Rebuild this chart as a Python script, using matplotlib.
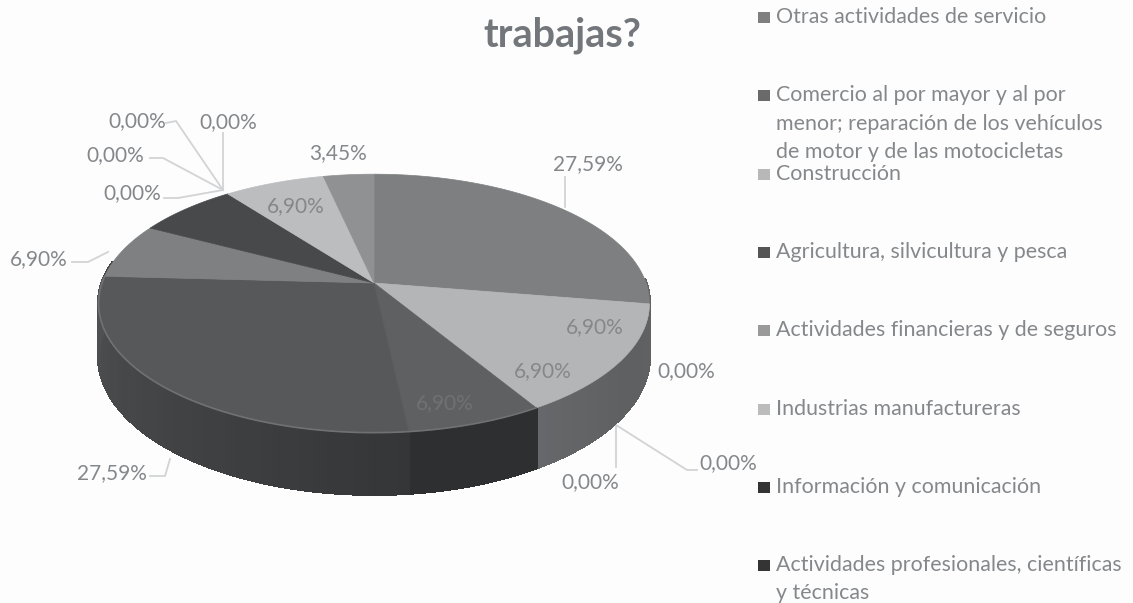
import numpy as np
import matplotlib
matplotlib.use("Agg")
import matplotlib.pyplot as plt
from matplotlib.colors import to_rgb
from matplotlib.patches import Polygon, Rectangle

# ---- data ----
slice_values = [27.59, 6.90, 0.0, 0.0, 0.0, 6.90, 6.90, 27.59, 6.90, 6.90, 0.0, 0.0, 0.0, 0.0, 6.90, 3.45]
slice_labels = ["27,59%", "6,90%", "0,00%", "0,00%", "0,00%", "6,90%", "6,90%", "27,59%",
                "6,90%", "", "0,00%", "0,00%", "0,00%", "0,00%", "6,90%", "3,45%"]
legend_lines = [
    ["Otras actividades de servicio"],
    ["Comercio al por mayor y al por", "menor; reparación de los vehículos", "de motor y de las motocicletas"],
    ["Construcción"],
    ["Agricultura, silvicultura y pesca"],
    ["Actividades financieras y de seguros"],
    ["Industrias manufactureras"],
    ["Información y comunicación"],
    ["Actividades profesionales, científicas", "y técnicas"],
]
title_last_line = "trabajas?"

# ---- styles / layout ----
top_colors = ["#7d7f80", "#b4b5b6", "#888888", "#888888", "#888888", "#b4b5b6", "#5f6061", "#56585a",
              "#7f8081", "#47494a", "#888888", "#888888", "#888888", "#888888", "#bcbdbe", "#909192"]
side_start = ["#666768", "#606162", "#555555", "#555555", "#555555", "#5f6061", "#2e2f30", "#353638",
              "#444444", "#333333", "#444444", "#444444", "#444444", "#444444", "#555555", "#555555"]
side_end = ["#606162", "#5f6061", "#555555", "#555555", "#555555", "#66676a", "#2e2f30", "#505153",
            "#444444", "#333333", "#444444", "#444444", "#444444", "#444444", "#555555", "#555555"]
legend_swatches = ["#7f7f7f", "#6a6a6a", "#b8b8b8", "#555555", "#9a9a9a", "#bcbcbc", "#333333", "#343434"]
legend_y = [[17], [95, 124, 152], [174], [252], [330], [409], [487], [565, 593]]
label_xy = [(588, 164), (595, 327), (686, 371), (590, 482), (728, 463), (543, 371), (445, 403), (112, 473),
            (39, 259), None, (137, 121), (228, 122), (115, 155), (132, 193), (296, 206), (338, 153)]
leaders = [
    [(565, 177), (565, 207)],
    [(616, 425), (616, 467)],
    [(616, 425), (687, 470), (697, 470)],
    [(150, 476), (165, 476), (170, 459)],
    [(72, 262), (88, 262), (108, 252)],
    [(166, 123), (176, 121), (223, 190)],
    [(223, 133), (223, 190)],
    [(150, 158), (163, 158), (223, 190)],
    [(164, 198), (178, 198), (223, 190)],
]
CX, CY, RX, RY, PERSP, DEPTH = 374.0, 283.0, 272.0, 126.0, 0.158, 52.0
TEXT = "#85888b"
FONT = "Lato"


def project(theta_deg):
    """Perspective projection of the rim of a tilted disc; returns x, y, scale."""
    t = np.radians(theta_deg)
    X, Y = np.sin(t), np.cos(t)
    s = 1.0 / (1.0 + PERSP * Y)
    return CX + RX * X * s, CY - RY * Y * s, s


fig = plt.figure(figsize=(11.33, 6.03), dpi=100, facecolor="#fdfdfd")
ax = fig.add_axes([0, 0, 1, 1])
ax.set_xlim(0, 1133)
ax.set_ylim(603, 0)
ax.axis("off")

vals = np.asarray(slice_values, dtype=float)
edges = np.concatenate([[0.0], np.cumsum(vals)]) / vals.sum() * 360.0

# side wall, shaded along the rim
for i in range(len(vals)):
    a, b = max(edges[i], 88.0), min(edges[i + 1], 280.0)
    if vals[i] == 0 or b <= a:
        continue
    steps = np.linspace(a, b, 41)
    c0, c1 = np.array(to_rgb(side_start[i])), np.array(to_rgb(side_end[i]))
    for j in range(40):
        th = np.linspace(steps[j], steps[j + 1], 4)
        x, y, s = project(th)
        pts = np.r_[np.c_[x, y], np.c_[x, y + DEPTH * s][::-1]]
        col = c0 + (c1 - c0) * j / 39
        ax.add_patch(Polygon(pts, closed=True, fc=col, ec=col, lw=1.5, antialiased=False, zorder=2))

# top surface
for i in range(len(vals)):
    if vals[i] == 0:
        continue
    th = np.linspace(edges[i], edges[i + 1], 120)
    x, y, _ = project(th)
    pts = np.r_[[[CX, CY]], np.c_[x, y]]
    ax.add_patch(Polygon(pts, closed=True, fc=top_colors[i], ec=top_colors[i], lw=0.5, zorder=3))

# light rim along the front of the big dark slices
th = np.linspace(edges[6], edges[8], 200)
x, y, _ = project(th)
ax.plot(x, y, color="#6f7173", lw=1.2, zorder=4)

# leaders
for line in leaders:
    xs, ys = zip(*line)
    ax.plot(xs, ys, color="#d2d3d4", lw=1.3, zorder=1, solid_joinstyle="round")

# data labels
for i, (lab, xy) in enumerate(zip(slice_labels, label_xy)):
    if xy is None:
        continue
    col = "#6f7175" if i == 6 else TEXT
    ax.text(xy[0], xy[1], lab, ha="center", va="center", fontsize=15, color=col,
            family=FONT, zorder=6)

# title (the first line lies above the crop)
ax.text(562, 35, title_last_line, ha="center", va="center", fontsize=28.5, color="#73777b",
        family=FONT, weight="bold", zorder=6)

# legend
for lines, ys, sw in zip(legend_lines, legend_y, legend_swatches):
    ax.add_patch(Rectangle((758, ys[0] - 5), 12, 11, fc=sw, ec="none", zorder=5))
    for txt, y in zip(lines, ys):
        ax.text(776, y, txt, ha="left", va="center", fontsize=15.4, color=TEXT, family=FONT, zorder=6)

fig.savefig("out.png", dpi=100, facecolor=fig.get_facecolor())
